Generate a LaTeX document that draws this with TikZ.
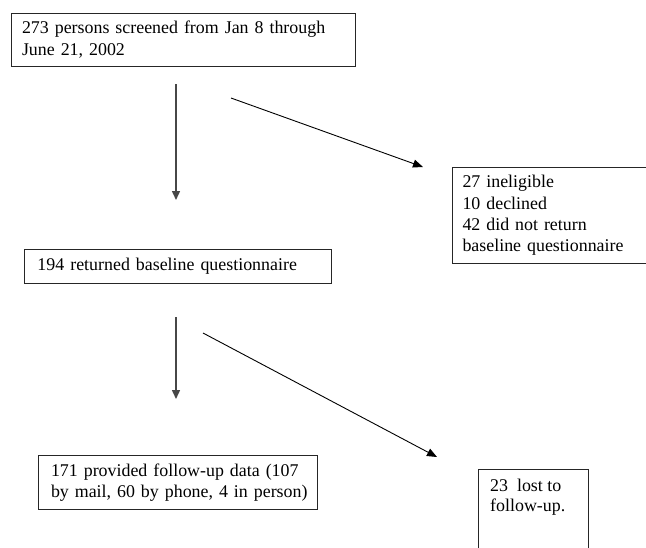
\documentclass[tikz,border=0pt]{standalone}
\usepackage{fontspec}
\setmainfont{Liberation Serif}
\usetikzlibrary{arrows.meta}
\begin{document}
\begin{tikzpicture}[x=1pt,y=-1pt,
  boxfont/.style={font=\fontsize{17.9}{21.3}\selectfont},
  box/.style={draw=black!85, line width=1pt, anchor=north west, inner ysep=0pt, align=left, boxfont},
  txt/.style={anchor=north west, inner sep=0pt, align=left, font=\fontsize{17.9}{20}\selectfont},
  vline/.style={draw=black!72, line width=1.5pt, -{Triangle[length=9pt,width=8pt]}},
  dline/.style={draw=black, line width=0.9pt, -{Triangle[length=10pt,width=8pt]}}]
\useasboundingbox (0,0) rectangle (646,547);
\fill[white] (0,0) rectangle (646,547);
\clip (0,0) rectangle (646,547);

% boxes
\node[box, minimum width=344pt, minimum height=53pt, inner xsep=10.5pt, text width=323pt] (b1) at (11,12.5)
  {\mbox{273 persons screened from Jan 8 through}\\\mbox{June 21, 2002}};
\node[box, minimum width=200pt, minimum height=96pt, inner xsep=10pt, text width=180pt] (b2) at (452,167)
  {\mbox{27 ineligible}\\\mbox{10 declined}\\\mbox{42 did not return}\\\mbox{baseline questionnaire}};
\node[box, minimum width=307pt, minimum height=34pt, inner xsep=13pt, text width=281pt] (b3) at (24,249)
  {\mbox{194 returned baseline questionnaire}};
\node[box, minimum width=279pt, minimum height=54pt, inner xsep=12.5pt, text width=254pt] (b4) at (38,455)
  {\mbox{171 provided follow-up data (107}\\\mbox{by mail, 60 by phone, 4 in person)}};
\node[box, minimum width=110pt, minimum height=100pt, inner sep=0pt] (b5) at (478,469) {};
\node[txt] (t5) at (490,479) {\mbox{23\ \ lost to}\\\mbox{follow-up.}};

% connector end points
\coordinate (v1s) at (176,84);  \coordinate (v1e) at (176,200);
\coordinate (d1s) at (231,98);  \coordinate (d1e) at (423,167);
\coordinate (v2s) at (176,317); \coordinate (v2e) at (176,399);
\coordinate (d2s) at (203,333); \coordinate (d2e) at (437,457);

\draw[vline] (v1s) -- (v1e);
\draw[dline] (d1s) -- (d1e);
\draw[vline] (v2s) -- (v2e);
\draw[dline] (d2s) -- (d2e);
\end{tikzpicture}
\end{document}
